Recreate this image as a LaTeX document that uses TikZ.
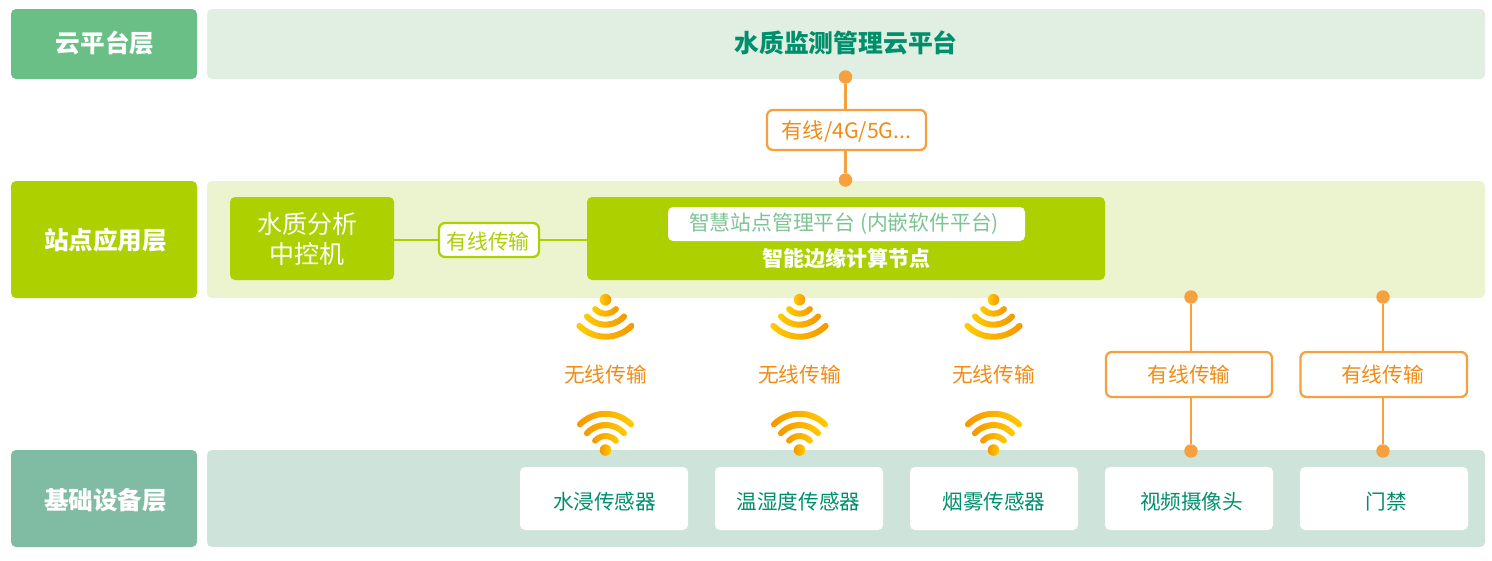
\documentclass[tikz,border=0pt]{standalone}
\usepackage{fontspec}
\setmainfont{Noto Sans CJK SC}
\usetikzlibrary{calc}
\definecolor{cloudlab}{HTML}{69BF85}
\definecolor{cloudband}{HTML}{E1EFE2}
\definecolor{sitegreen}{HTML}{ACD000}
\definecolor{siteband}{HTML}{ECF3CF}
\definecolor{baselab}{HTML}{80BCA4}
\definecolor{baseband}{HTML}{CEE4DB}
\definecolor{titlegreen}{HTML}{008F6C}
\definecolor{softgreen}{HTML}{7CC494}
\definecolor{linkorange}{HTML}{F7A040}
\definecolor{textorange}{HTML}{F08C14}
\definecolor{wifiy}{HTML}{FFCC00}
\definecolor{wifio}{HTML}{F59700}
\tikzset{
  x=1pt,y=1pt,
  plate/.style={rectangle,rounded corners=5pt,inner sep=0pt,outer sep=0pt,align=center},
  lab/.style={plate,text=white,font=\fontsize{24.6}{28}\selectfont\bfseries},
  linkbox/.style={plate,fill=white,draw=linkorange,line width=2.3pt,rounded corners=6pt},
  sensor/.style={plate,fill=white,rounded corners=5pt},
  txt/.style={inner sep=0pt,outer sep=0pt,align=center},
  wt/.style={txt,text=textorange,font=\fontsize{20.7}{26}\selectfont},
  st/.style={txt,text=titlegreen,font=\fontsize{20.6}{26}\selectfont},
  dot/.style={circle,fill=linkorange,minimum size=13.5pt,inner sep=0pt,outer sep=0pt},
  link/.style={draw=linkorange,line width=2.3pt},
  glink/.style={draw=sitegreen,line width=2.3pt},
}
% name, x1, y1, x2, y2, style, text (pixel coordinates, y downward)
\newcommand{\pxbox}[7]{%
  \pgfmathsetmacro{\bw}{#4-#2}\pgfmathsetmacro{\bh}{#5-#3}%
  \pgfmathsetmacro{\bx}{(#2+#4)/2}\pgfmathsetmacro{\by}{-(#3+#5)/2}%
  \node[#6,minimum width=\bw pt,minimum height=\bh pt] (#1) at (\bx,\by) {#7};}
% one wifi stroke: cx, cy, radius, start angle, end angle, left colour, right colour
\newcommand{\wifistroke}[7]{%
  \pgfmathsetmacro{\ro}{#3+3}\pgfmathsetmacro{\ri}{#3-3}%
  \shade[left color=#6,right color=#7]
    ($(#1,#2)+(#4:\ro)$) arc[start angle=#4,end angle=#5,radius=\ro]
    arc[start angle=#5,end angle=#5+180,radius=3]
    arc[start angle=#5,end angle=#4,radius=\ri]
    arc[start angle=#4+180,end angle=#4+360,radius=3] -- cycle;}
\newcommand{\wifidown}[2]{% signal below the dot
  \wifistroke{#1}{#2}{14}{222}{318}{wifiy}{wifio}
  \wifistroke{#1}{#2}{25}{222}{318}{wifiy}{wifio}
  \wifistroke{#1}{#2}{37}{225}{315}{wifiy}{wifio}
  \shade[left color=wifiy,right color=wifio] (#1,#2) circle[radius=5.8];}
\newcommand{\wifiup}[2]{% signal above the dot
  \wifistroke{#1}{#2}{14}{42}{138}{wifio}{wifiy}
  \wifistroke{#1}{#2}{25}{42}{138}{wifio}{wifiy}
  \wifistroke{#1}{#2}{36.2}{45}{135}{wifio}{wifiy}
  \shade[left color=wifio,right color=wifiy] (#1,#2) circle[radius=5.8];}
\begin{document}
\begin{tikzpicture}
\useasboundingbox (0,0) rectangle (1492,-560);
% layer labels and bands
\pxbox{lcloud}{11}{9}{197}{79}{lab,fill=cloudlab}{}
\pxbox{lsite}{11}{181}{197}{298}{lab,fill=sitegreen}{}
\pxbox{lbase}{11}{450}{197}{547}{lab,fill=baselab}{}
\node[txt,text=white,font=\fontsize{24.6}{28}\selectfont\bfseries] (tcloud) at (105,-43) {云平台层};
\node[txt,text=white,font=\fontsize{24.6}{28}\selectfont\bfseries] (tsite) at (105.5,-240) {站点应用层};
\node[txt,text=white,font=\fontsize{24.6}{28}\selectfont\bfseries] (tbase) at (105.5,-500) {基础设备层};
\pxbox{bcloud}{207}{9}{1485}{79}{plate,fill=cloudband}{}
\node[txt,text=titlegreen,font=\fontsize{24.8}{30}\selectfont\bfseries] (tband) at (846,-43) {水质监测管理云平台};
\pxbox{bsite}{207}{181}{1485}{298}{plate,fill=siteband}{}
\pxbox{bbase}{207}{450}{1485}{547}{plate,fill=baseband}{}
% dots
\node[dot] (d1) at (845.5,-77) {};
\node[dot] (d2) at (845.5,-180) {};
\node[dot] (d3) at (1191,-297) {};
\node[dot] (d4) at (1191,-451) {};
\node[dot] (d5) at (1383,-297) {};
\node[dot] (d6) at (1383,-451) {};
% site row
\pxbox{ctrl}{230}{197}{394}{280}{plate,fill=sitegreen}{}
\node[txt,text=white,font=\fontsize{25}{30}\selectfont] (ctrlt) at (307,-239) {水质分析\\中控机};
\pxbox{edge}{587}{197}{1105}{280}{plate,fill=sitegreen}{}
\pxbox{soft}{668}{207}{1025}{241}{plate,fill=white,rounded corners=5pt}{}
\node[txt,text=softgreen,font=\fontsize{20.8}{26}\selectfont] (softt) at (844,-224) {智慧站点管理平台 (内嵌软件平台)};
\node[txt,text=white,font=\fontsize{21}{26}\selectfont\bfseries] (edget) at (846,-259) {智能边缘计算节点};
\pxbox{wired}{439}{223}{539}{257}{plate,fill=white,draw=sitegreen,line width=2.3pt,rounded corners=6pt}{}
\node[txt,text=sitegreen,font=\fontsize{20.8}{26}\selectfont] (wiredt) at (488,-242) {有线传输};
\draw[glink] (ctrl.east|-wired) -- (wired.west);
\draw[glink] (wired.east) -- (edge.west|-wired);
% cloud link
\pxbox{net}{767}{110}{926}{150}{linkbox}{}
\node[txt,text=textorange,font=\fontsize{21.2}{26}\selectfont] (nett) at (846.5,-131) {有线/4G/5G...};
\draw[link] (d1) -- (d1|-net.north);
\draw[link] (d2|-net.south) -- (d2);
% sensors
\pxbox{s1}{520}{467}{688}{530}{sensor}{}
\pxbox{s2}{715}{467}{883}{530}{sensor}{}
\pxbox{s3}{910}{467}{1078}{530}{sensor}{}
\pxbox{s4}{1105}{467}{1273}{530}{sensor}{}
\pxbox{s5}{1300}{467}{1468}{530}{sensor}{}
\node[st] (t1) at (604.5,-502) {水浸传感器};
\node[st] (t2) at (798.5,-502) {温湿度传感器};
\node[st] (t3) at (994,-502) {烟雾传感器};
\node[st] (t4) at (1191.5,-502) {视频摄像头};
\node[st] (t5) at (1386,-502) {门禁};
% wired links
\pxbox{w1}{1106}{352}{1272}{397}{linkbox}{}
\pxbox{w2}{1300.5}{352}{1467}{397}{linkbox}{}
\node[wt] (w1t) at (1189,-375) {有线传输};
\node[wt] (w2t) at (1382.5,-375) {有线传输};
\draw[link] (d3) -- (d3|-w1.north);
\draw[link] (d3|-w1.south) -- (d4);
\draw[link] (d5) -- (d5|-w2.north);
\draw[link] (d5|-w2.south) -- (d6);
% wireless links
\node[wt] (r1) at (605.5,-375) {无线传输};
\node[wt] (r2) at (799.5,-375) {无线传输};
\node[wt] (r3) at (993.5,-375) {无线传输};
\wifidown{605.5}{-299.7}\wifiup{605.5}{-450}
\wifidown{799.5}{-299.7}\wifiup{799.5}{-450}
\wifidown{993.5}{-299.7}\wifiup{993.5}{-450}
\end{tikzpicture}
\end{document}
